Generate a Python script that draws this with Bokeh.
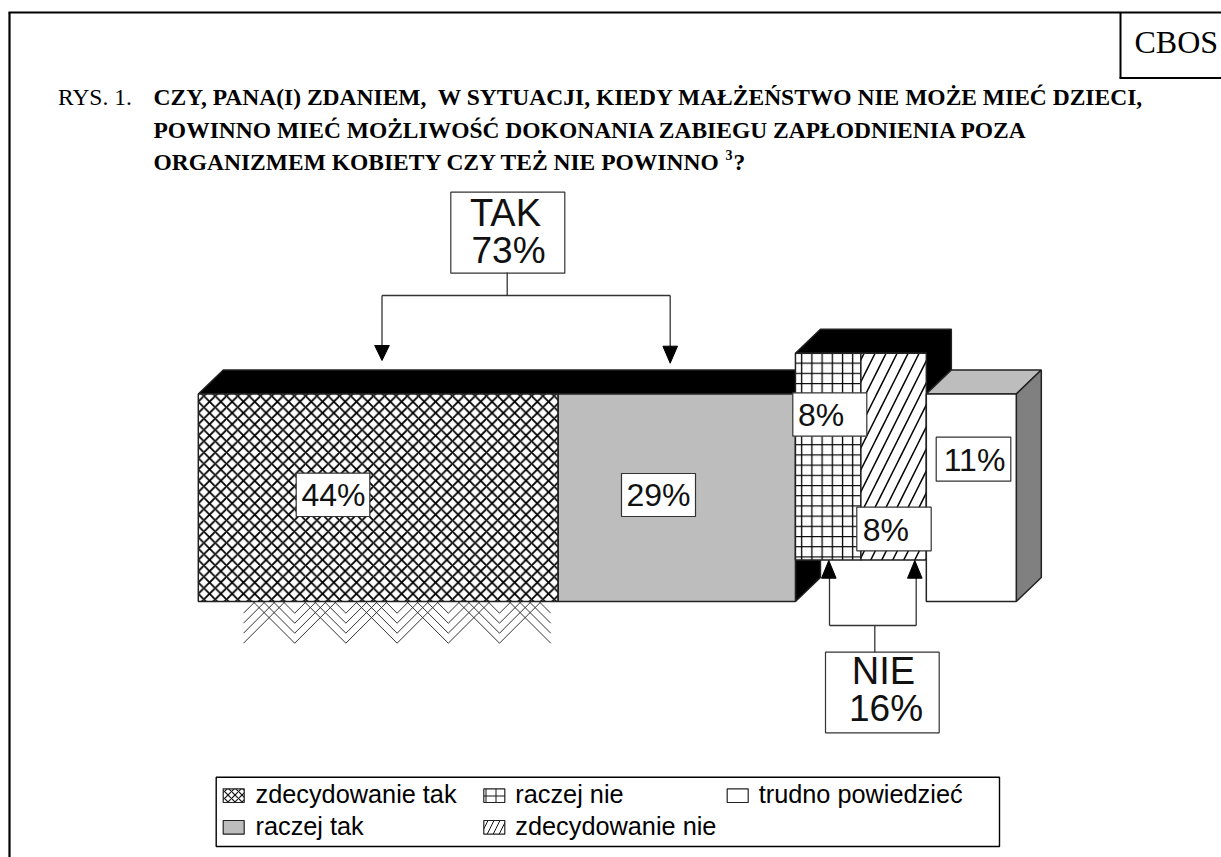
from bokeh.plotting import figure
from bokeh.embed import file_html
from bokeh.resources import INLINE
from bokeh.core.properties import value

# ---- data
categories = ["zdecydowanie tak", "raczej tak", "raczej nie", "zdecydowanie nie", "trudno powiedzieć"]
values = [44, 29, 8, 8, 11]
labels = ["44%", "29%", "8%", "8%", "11%"]
title_lines = ["CZY, PANA(I) ZDANIEM,\u00a0 W SYTUACJI, KIEDY MAŁŻEŃSTWO NIE MOŻE MIEĆ DZIECI,",
               "POWINNO MIEĆ MOŻLIWOŚĆ DOKONANIA ZABIEGU ZAPŁODNIENIA POZA",
               "ORGANIZMEM KOBIETY CZY TEŻ NIE POWINNO"]
groups = [("TAK", "73%"), ("NIE", "16%")]

W, H = 1221, 857
p = figure(width=W, height=H, x_range=(0, W), y_range=(H, 0), toolbar_location=None,
           output_backend="svg", min_border=0, outline_line_color=None, x_axis_type=None, y_axis_type=None)
p.grid.visible = False

SERIF = value("Liberation Serif")
SANS = value("Liberation Sans")
INK = "#222222"
LW = 1.5

def txt(x, y, t, font, size, **kw):
    kw.setdefault("text_color", "black")
    # the renderer sets alphabetic text lower than the given y, by a share of the font size
    p.text([x], [y - 0.36 * size], text=[t], text_font=font, text_font_size=f"{size}px",
           text_baseline="alphabetic", **kw)

# frame
p.line([9, 9], [860, 12], line_color="black", line_width=2.2)
p.line([8, 1225], [12, 12], line_color="black", line_width=2.2)
p.line([1120, 1120], [12, 77.5], line_color="black", line_width=2)
p.line([1119, 1225], [77.5, 77.5], line_color="black", line_width=2)
txt(1134, 53, "CBOS", SERIF, 32)

# title
txt(57.5, 105, "RYS. 1.", SERIF, 23.5)
for t, y in zip(title_lines, [105, 137.5, 170]):
    txt(153, y, t, SERIF, 23.5, text_font_style="bold")
txt(725, 160, "3", SERIF, 14, text_font_style="bold")
txt(733, 170, "?", SERIF, 23.5, text_font_style="bold")

# bars from data
X0, SX = 197.8, 8.18
e = [X0]
for v in values:
    e.append(e[-1] + v * SX)
DX, DY = 25, 24
t1, b1 = 393.5, 601
t2, b2 = 352.8, 559.5

def poly(xs, ys, fill):
    p.patch(xs, ys, fill_color=fill, line_color=INK, line_width=LW)

# chevron pattern under first bar
tips = [243 + i * 51.2 for i in range(7)]
cx, cy = [], []
for lvl in [612.7, 622.7, 632.7, 642.7]:
    h = lvl - b1
    for i, tx in enumerate(tips):
        xs = [tx, tx + h] if i == 0 else ([tx - h, tx] if i == len(tips) - 1 else [tx - h, tx, tx + h])
        ys = [lvl, b1] if i == 0 else ([b1, lvl] if i == len(tips) - 1 else [b1, lvl, b1])
        cx.append(xs)
        cy.append(ys)
p.multi_line(cx, cy, line_color="#333333", line_width=1)

# black top of TAK group
poly([e[0], e[0] + DX, e[2] + DX, e[2]], [t1, t1 - DY, t1 - DY, t1], "black")
# black top + side of NIE group
poly([e[2], e[2] + DX, e[4] + DX, e[4] + DX, e[4], e[4]],
     [t2, t2 - DY, t2 - DY, t1 - DY, t1, t2], "black")
# black bottom side of TAK group
poly([e[2], e[2] + DX, e[2] + DX, e[2]], [b1, b1 - DY, b2, b2], "black")

# white bar 3D
poly([e[4], e[4] + DX, e[5] + DX, e[5]], [t1, t1 - DY, t1 - DY, t1], "#BDBDBD")
poly([e[5], e[5] + DX, e[5] + DX, e[5]], [t1, t1 - DY, b1 - DY, b1], "#808080")

# fronts
p.quad(left=[e[0]], right=[e[1]], top=[t1], bottom=[b1], fill_color="white", line_color=INK, line_width=LW,
       hatch_pattern="diagonal_cross", hatch_color="#000000", hatch_scale=11.3, hatch_weight=1.8)
p.quad(left=[e[1]], right=[e[2]], top=[t1], bottom=[b1], fill_color="#BDBDBD", line_color=INK, line_width=LW)
p.quad(left=[e[2]], right=[e[3]], top=[t2], bottom=[b2], fill_color="white", line_color=INK, line_width=LW,
       hatch_pattern="cross", hatch_color="#000000", hatch_scale=10.2, hatch_weight=1.3)
p.quad(left=[e[3]], right=[e[4]], top=[t2], bottom=[b2], fill_color="white", line_color=INK, line_width=LW,
       hatch_pattern="right_diagonal_line", hatch_color="#000000", hatch_scale=22, hatch_weight=1.5)
p.quad(left=[e[4]], right=[e[5]], top=[t1], bottom=[b1], fill_color="white", line_color=INK, line_width=LW)

# value labels
def box(x0, x1, y0, y1):
    p.quad(left=[x0], right=[x1], top=[y0], bottom=[y1], fill_color="white", line_color="#333333", line_width=1.2)

label_boxes = [(295.7, 369.3, 472.7, 516), (621, 695, 473, 516), (792.3, 866.3, 392.3, 435.7),
               (856.3, 930.7, 506.7, 550.3), (935.7, 1010.3, 436.7, 480.7)]
label_text = [(333, 506), (658, 506), (820.7, 426), (885.3, 540.7), (974, 470.7)]
for lab, (a, b, c, d), (tx, ty) in zip(labels, label_boxes, label_text):
    box(a, b, c, d)
    txt(tx, ty, lab, SANS, 32, text_align="center", text_color="#111111")

# brackets
def arrow_head(x, tip, base):
    p.patch([x - 7.3, x + 7.3, x], [base, base, tip], fill_color="black", line_color="black", line_width=1)

box(450.3, 564.3, 191.7, 272.7)
txt(505, 226, groups[0][0], SANS, 38, text_align="center", text_color="#111111")
txt(508, 263.3, groups[0][1], SANS, 37, text_align="center", text_color="#111111")
p.multi_line([[506.7, 506.7], [381.5, 669.7], [381.5, 381.5], [669.7, 669.7]],
             [[272, 295], [295, 295], [295, 346], [295, 346]],
             line_color="#333333", line_width=1.3)
arrow_head(381.5, 360, 345)
arrow_head(669.7, 362.7, 345.7)

box(825, 938.7, 651.7, 732.3)
txt(883, 684, groups[1][0], SANS, 38, text_align="center", text_color="#111111")
txt(885.5, 721.7, groups[1][1], SANS, 37, text_align="center", text_color="#111111")
p.multi_line([[874.3, 874.3], [829, 915.7], [829, 829], [915.7, 915.7]],
             [[651.7, 625], [625, 625], [625, 576], [625, 576]],
             line_color="#333333", line_width=1.3)
arrow_head(828.3, 560, 577.7)
arrow_head(914.3, 560, 577.7)

# legend
p.quad(left=[215.7], right=[999], top=[776.7], bottom=[846], fill_color="white", line_color="black", line_width=1.4)
leg_pos = [(222.7, 788.3, 802.7), (222.7, 820, 835), (483.3, 788.3, 802.7), (483.3, 820, 835), (726.7, 788.3, 802.7)]
styles = [dict(hatch_pattern="diagonal_cross", fill_color="white", hatch_scale=7, hatch_weight=1.2),
          dict(fill_color="#BDBDBD"),
          dict(hatch_pattern="cross", fill_color="white", hatch_scale=10, hatch_weight=1),
          dict(hatch_pattern="right_diagonal_line", fill_color="white", hatch_scale=12, hatch_weight=1),
          dict(fill_color="white")]
for name, (x, y0, base), st in zip(categories, leg_pos, styles):
    p.quad(left=[x], right=[x + 21], top=[y0], bottom=[y0 + 13.7], line_color="#222222", line_width=1.2,
           hatch_color="#111111", **st)
    txt(x + 32.3 if x < 480 else x + 31.5, base, name, SANS, 25.3)

open("out.html", "w").write(file_html(p, INLINE))
